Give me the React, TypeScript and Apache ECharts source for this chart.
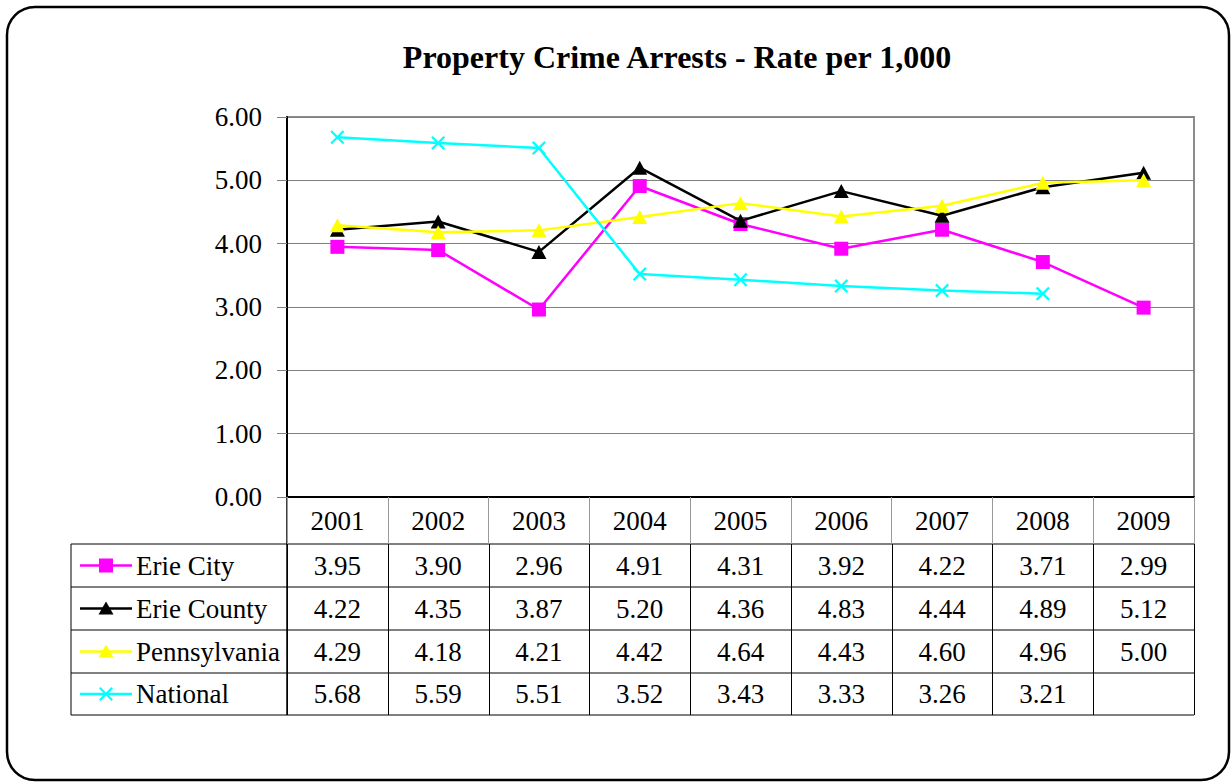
import React, { useEffect, useRef } from "react";
import * as echarts from "echarts";

const years = ["2001", "2002", "2003", "2004", "2005", "2006", "2007", "2008", "2009"];
const erieCity = [3.95, 3.9, 2.96, 4.91, 4.31, 3.92, 4.22, 3.71, 2.99];
const erieCounty = [4.22, 4.35, 3.87, 5.2, 4.36, 4.83, 4.44, 4.89, 5.12];
const pennsylvania = [4.29, 4.18, 4.21, 4.42, 4.64, 4.43, 4.6, 4.96, 5.0];
const national = [5.68, 5.59, 5.51, 3.52, 3.43, 3.33, 3.26, 3.21, null];
const yTicks = [0, 1, 2, 3, 4, 5, 6];

const FONT = "'Liberation Serif', 'Times New Roman', serif";
const FS = 27;
const GL = 287, GT = 117, GW = 907, GH = 380;
const COLW = GW / years.length;
const ROWS = [544, 587, 630, 673, 715];
const TLEFT = 71;

const CROSS = "path://M0,1.6L1.6,0L7,5.4L12.4,0L14,1.6L8.6,7L14,12.4L12.4,14L7,8.6L1.6,14L0,12.4L5.4,7Z";

const seriesDefs = [
  { name: "Erie City", data: erieCity, color: "#FF00FF", symbol: "rect", size: 14, kind: "square" },
  { name: "Erie County", data: erieCounty, color: "#000000", symbol: "triangle", size: [15, 14], kind: "tri" },
  { name: "Pennsylvania", data: pennsylvania, color: "#FFFF00", symbol: "triangle", size: [15, 14], kind: "tri" },
  { name: "National", data: national, color: "#00FFFF", symbol: CROSS, size: 14, kind: "cross" },
];

function keyMarker(kind: string, cx: number, cy: number, color: string): any {
  if (kind === "square") {
    return { type: "rect", shape: { x: cx - 7, y: cy - 7, width: 14, height: 14 }, style: { fill: color } };
  }
  if (kind === "tri") {
    return { type: "polygon", shape: { points: [[cx, cy - 7], [cx + 7.5, cy + 6], [cx - 7.5, cy + 6]] }, style: { fill: color } };
  }
  const d = 1.6, h = 7;
  const pts = [
    [-h, -h + d], [-h + d, -h], [0, -d], [h - d, -h], [h, -h + d], [d, 0],
    [h, h - d], [h - d, h], [0, d], [-h + d, h], [-h, h - d], [-d, 0],
  ].map(([x, y]) => [cx + x, cy + y]);
  return { type: "polygon", shape: { points: pts }, style: { fill: color } };
}

export default function App() {
  const ref = useRef<HTMLDivElement>(null);
  useEffect(() => {
    if (!ref.current) return;
    const chart = echarts.init(ref.current, null, { renderer: "svg" });
    const graphics: any[] = [];
    graphics.push({
      type: "rect",
      shape: { x: 7, y: 7, width: 1222, height: 773, r: 28 },
      style: { fill: "none", stroke: "#000", lineWidth: 2.5 },
      z: 0,
    });
    graphics.push({
      type: "text",
      x: 677,
      y: 57,
      style: {
        text: "Property Crime Arrests - Rate per 1,000",
        font: `bold 32px ${FONT}`,
        fill: "#000",
        textAlign: "center",
        textVerticalAlign: "middle",
      },
    });
    ROWS.forEach((y) => {
      graphics.push({
        type: "line",
        shape: { x1: TLEFT, y1: y, x2: GL + GW, y2: y },
        style: { stroke: "#000", lineWidth: 1 },
      });
    });
    graphics.push({
      type: "line",
      shape: { x1: TLEFT, y1: ROWS[0], x2: TLEFT, y2: ROWS[ROWS.length - 1] },
      style: { stroke: "#000", lineWidth: 1 },
    });
    for (let i = 0; i <= years.length; i++) {
      const x = Math.round(GL + i * COLW) + 0.5;
      graphics.push({
        type: "line",
        shape: { x1: x, y1: ROWS[0], x2: x, y2: ROWS[ROWS.length - 1] },
        style: { stroke: "#000", lineWidth: 1 },
      });
    }
    graphics.push({
      type: "line",
      shape: { x1: GL, y1: GT + GH, x2: GL, y2: ROWS[ROWS.length - 1] },
      style: { stroke: "#000", lineWidth: 1.5 },
    });
    seriesDefs.forEach((s, r) => {
      const cy = (ROWS[r] + ROWS[r + 1]) / 2;
      graphics.push({
        type: "line",
        shape: { x1: 80, y1: cy, x2: 132, y2: cy },
        style: { stroke: s.color, lineWidth: 2.5 },
      });
      graphics.push(keyMarker(s.kind, 106, cy, s.color));
      graphics.push({
        type: "text",
        x: 136,
        y: cy,
        style: { text: s.name, font: `${FS}px ${FONT}`, fill: "#000", textVerticalAlign: "middle" },
      });
      s.data.forEach((v, i) => {
        if (v == null) return;
        graphics.push({
          type: "text",
          x: GL + (i + 0.5) * COLW,
          y: cy,
          style: {
            text: v.toFixed(2),
            font: `${FS}px ${FONT}`,
            fill: "#000",
            textAlign: "center",
            textVerticalAlign: "middle",
          },
        });
      });
    });

    chart.setOption({
      animation: false,
      backgroundColor: "#fff",
      grid: {
        left: GL,
        top: GT,
        width: GW,
        height: GH,
        show: true,
        borderColor: "#8c8c8c",
        borderWidth: 2,
        backgroundColor: "transparent",
      },
      xAxis: {
        type: "category",
        data: years,
        boundaryGap: true,
        axisLine: { lineStyle: { color: "#000", width: 2 } },
        axisTick: { show: true, interval: 0, length: 47, lineStyle: { color: "#999", width: 1 } },
        axisLabel: {
          interval: 0,
          margin: 24,
          verticalAlign: "middle",
          color: "#000",
          fontSize: FS,
          fontFamily: FONT,
        },
        splitLine: { show: false },
      },
      yAxis: {
        type: "value",
        min: yTicks[0],
        max: yTicks[yTicks.length - 1],
        interval: 1,
        axisLine: { show: true, lineStyle: { color: "#000", width: 2 } },
        axisTick: { show: true, length: 10, lineStyle: { color: "#808080" } },
        axisLabel: {
          margin: 25,
          color: "#000",
          fontSize: FS,
          fontFamily: FONT,
          formatter: (v: number) => v.toFixed(2),
        },
        splitLine: { show: true, lineStyle: { color: "#808080", width: 1 } },
      },
      series: seriesDefs.map((s, idx) => ({
        name: s.name,
        type: "line",
        data: s.data,
        symbol: s.symbol,
        symbolSize: s.size,
        showAllSymbol: true,
        connectNulls: false,
        lineStyle: { color: s.color, width: 2.5 },
        itemStyle: { color: s.color, borderWidth: 0 },
        z: 3 + idx,
      })),
      graphic: graphics,
    });
    return () => chart.dispose();
  }, []);
  return (
    <div
      ref={ref}
      style={{ position: "fixed", left: 0, top: 0, width: 1231, height: 782, background: "#fff" }}
    />
  );
}
